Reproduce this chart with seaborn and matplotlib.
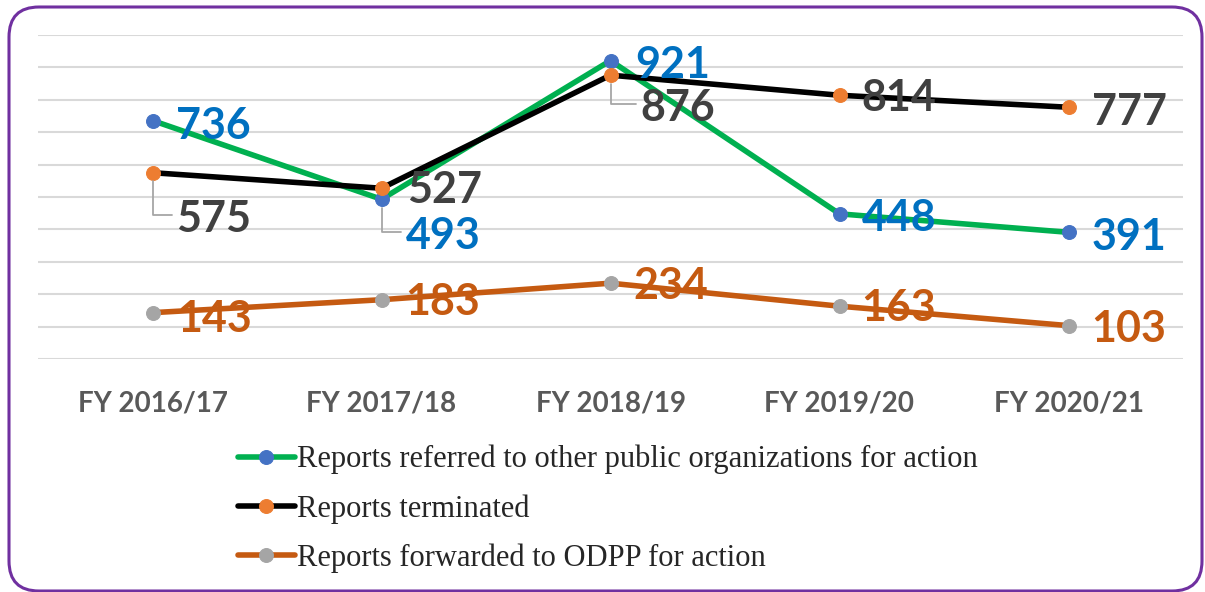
import numpy as np
import pandas as pd
import matplotlib.pyplot as plt
import seaborn as sns
from matplotlib.patches import FancyBboxPatch

years = ['FY 2016/17', 'FY 2017/18', 'FY 2018/19', 'FY 2019/20', 'FY 2020/21']
referred = [736, 493, 921, 448, 391]
terminated = [575, 527, 876, 814, 777]
forwarded = [143, 183, 234, 163, 103]

names = ['Reports referred to other public organizations for action',
         'Reports terminated',
         'Reports forwarded to ODPP for action']

sns.set_theme(style='white')
plt.rcParams['font.family'] = ['Lato', 'DejaVu Sans']

# line colour, marker colour, label colour, line width, label offsets in px (dx, dy, leader)
styles = [
    ('#00B050', '#4472C4', '#0070C0', 3.2,
     [(23, -1, 0), (24, -33, 1), (25, 0, 0), (22, 0, 0), (23, -1, 0)]),
    ('#000000', '#ED7D31', '#404040', 3.8,
     [(24, -42, 1), (26, 2, 0), (30, -29, 1), (22, 1, 0), (23, -1, 0)]),
    ('#C55A11', '#A5A5A5', '#C55A11', 3.8,
     [(25, -2, 0), (24, 2, 0), (23, 1, 0), (22, 2, 0), (23, 1, 0)]),
]

fig = plt.figure(figsize=(12.05, 5.92), dpi=100)
ax = fig.add_axes([38 / 1205, 1 - 359 / 592, 1145 / 1205, 324 / 592])

for i, (vals, name) in enumerate(zip([referred, terminated, forwarded], names)):
    lc, mc, tc, lw, offs = styles[i]
    df = pd.DataFrame({'year': years, 'value': vals})
    sns.lineplot(data=df, x='year', y='value', ax=ax, sort=False, color=lc,
                 lw=lw, marker='o', markersize=9, markerfacecolor=mc,
                 markeredgecolor=mc, label=name, zorder=2 + i)
    for j, v in enumerate(vals):
        dx, dy, lead = offs[j]
        dy -= 4
        kw = {}
        if lead:
            kw['arrowprops'] = dict(arrowstyle='-', color='#A6A6A6', lw=1.3,
                                    connectionstyle='angle,angleA=0,angleB=90,rad=0',
                                    relpos=(0, 0.6), shrinkA=1, shrinkB=6)
        ax.annotate(str(v), xy=(j, v), xytext=(dx * 0.72, dy * 0.72),
                    textcoords='offset points', ha='left', va='center',
                    fontsize=31, fontweight='bold', color=tc, zorder=10, **kw)

ax.set_xlim(-0.5, 4.5)
ax.set_ylim(0, 1000)
ax.set_yticks(np.arange(0, 1001, 100))
ax.yaxis.grid(True, color='#D9D9D9', lw=1.5)
ax.set_axisbelow(True)
ax.set_yticklabels([])
ax.set_xlabel('')
ax.set_ylabel('')
ax.tick_params(axis='both', length=0)
ax.tick_params(axis='x', pad=23, labelsize=20, labelcolor='#595959')
for t in ax.get_xticklabels():
    t.set_fontweight('bold')
for s in ax.spines.values():
    s.set_visible(False)

handles, labels = ax.get_legend_handles_labels()
ax.get_legend().remove()
for h in handles:
    h.set_linewidth(4)
    h.set_markersize(10)
fig.legend(handles, labels, loc='upper left', bbox_to_anchor=(238 / 1205, 1 - 445 / 592),
           frameon=False, prop={'family': 'Liberation Serif', 'size': 22},
           handlelength=1.85, handletextpad=0.08, labelspacing=0.64, borderpad=0,
           borderaxespad=0)

box = FancyBboxPatch((0.09, 0.01), 11.93, 5.84, boxstyle='round,pad=0,rounding_size=0.3',
                     transform=fig.dpi_scale_trans, fill=False, ec='#7030A0', lw=2.2)
fig.patches.append(box)

fig.savefig('out.png', dpi=100)
